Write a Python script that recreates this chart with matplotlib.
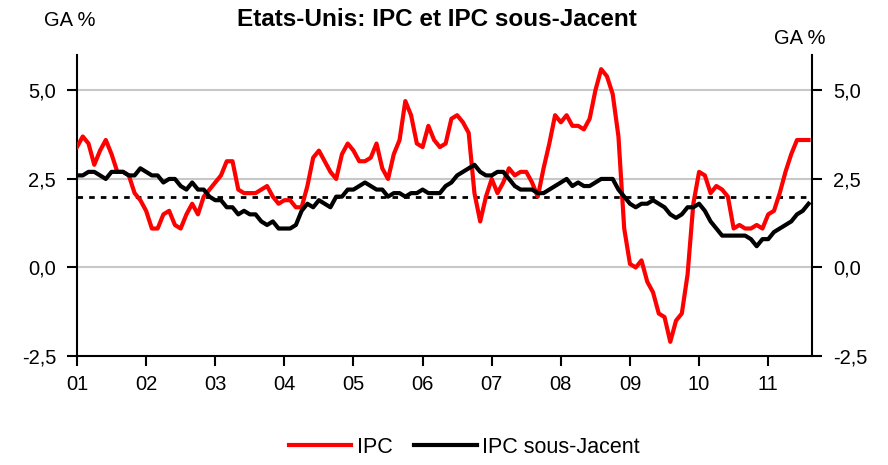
import matplotlib
matplotlib.use('Agg')
import matplotlib.pyplot as plt
from matplotlib.ticker import FuncFormatter

plt.rcParams['font.family'] = ['Liberation Sans', 'DejaVu Sans']

# monthly YoY %, Dec 2000 -> Jul 2011
ipc = [3.4,
       3.7, 3.5, 2.9, 3.3, 3.6, 3.2, 2.7, 2.7, 2.6, 2.1, 1.9, 1.6,
       1.1, 1.1, 1.5, 1.6, 1.2, 1.1, 1.5, 1.8, 1.5, 2.0, 2.2, 2.4,
       2.6, 3.0, 3.0, 2.2, 2.1, 2.1, 2.1, 2.2, 2.3, 2.0, 1.8, 1.9,
       1.9, 1.7, 1.7, 2.3, 3.1, 3.3, 3.0, 2.7, 2.5, 3.2, 3.5, 3.3,
       3.0, 3.0, 3.1, 3.5, 2.8, 2.5, 3.2, 3.6, 4.7, 4.3, 3.5, 3.4,
       4.0, 3.6, 3.4, 3.5, 4.2, 4.3, 4.1, 3.8, 2.1, 1.3, 2.0, 2.5,
       2.1, 2.4, 2.8, 2.6, 2.7, 2.7, 2.4, 2.0, 2.8, 3.5, 4.3, 4.1,
       4.3, 4.0, 4.0, 3.9, 4.2, 5.0, 5.6, 5.4, 4.9, 3.7, 1.1, 0.1,
       0.0, 0.2, -0.4, -0.7, -1.3, -1.4, -2.1, -1.5, -1.3, -0.2, 1.8, 2.7,
       2.6, 2.1, 2.3, 2.2, 2.0, 1.1, 1.2, 1.1, 1.1, 1.2, 1.1, 1.5,
       1.6, 2.1, 2.7, 3.2, 3.6, 3.6, 3.6]
ipc_sj = [2.6,
          2.6, 2.7, 2.7, 2.6, 2.5, 2.7, 2.7, 2.7, 2.6, 2.6, 2.8, 2.7,
          2.6, 2.6, 2.4, 2.5, 2.5, 2.3, 2.2, 2.4, 2.2, 2.2, 2.0, 1.9,
          1.9, 1.7, 1.7, 1.5, 1.6, 1.5, 1.5, 1.3, 1.2, 1.3, 1.1, 1.1,
          1.1, 1.2, 1.6, 1.8, 1.7, 1.9, 1.8, 1.7, 2.0, 2.0, 2.2, 2.2,
          2.3, 2.4, 2.3, 2.2, 2.2, 2.0, 2.1, 2.1, 2.0, 2.1, 2.1, 2.2,
          2.1, 2.1, 2.1, 2.3, 2.4, 2.6, 2.7, 2.8, 2.9, 2.7, 2.6, 2.6,
          2.7, 2.7, 2.5, 2.3, 2.2, 2.2, 2.2, 2.1, 2.1, 2.2, 2.3, 2.4,
          2.5, 2.3, 2.4, 2.3, 2.3, 2.4, 2.5, 2.5, 2.5, 2.2, 2.0, 1.8,
          1.7, 1.8, 1.8, 1.9, 1.8, 1.7, 1.5, 1.4, 1.5, 1.7, 1.7, 1.8,
          1.6, 1.3, 1.1, 0.9, 0.9, 0.9, 0.9, 0.9, 0.8, 0.6, 0.8, 0.8,
          1.0, 1.1, 1.2, 1.3, 1.5, 1.6, 1.8]
year_labels = ['01', '02', '03', '04', '05', '06', '07', '08', '09', '10', '11']
cible = 2.0

fig = plt.figure(figsize=(8.88, 4.65), dpi=100)
ax = fig.add_axes([0.0867, 0.2344, 0.8277, 0.6473])

x = list(range(len(ipc)))
ax.plot(x, ipc, color='#ff0000', lw=3, label='IPC', zorder=3)
ax.plot(x, ipc_sj, color='black', lw=3, label='IPC sous-Jacent', zorder=4)
ax.plot([0, len(ipc) - 1], [cible, cible], color='black', lw=2, ls=(0, (2, 2.2)), zorder=2)

ax.set_xlim(0, 127.6)
ax.set_ylim(-2.5, 6.0)
ax.set_yticks([-2.5, 0, 2.5, 5.0])
for v in [0, 2.5, 5.0]:
    ax.axhline(v, color='#c8c8c8', lw=1.5, zorder=1)

fmt = FuncFormatter(lambda v, p: f'{v:.1f}'.replace('.', ','))
ax.yaxis.set_major_formatter(fmt)
ax.set_xticks([12 * i for i in range(len(year_labels))])
ax.set_xticklabels(year_labels)

ax.spines['top'].set_visible(False)
for s in ['left', 'right', 'bottom']:
    ax.spines[s].set_linewidth(1.5)
ax.tick_params(axis='y', which='both', left=True, right=True, labelleft=True, labelright=True,
               direction='out', length=7, width=1.5, labelsize=14.5, pad=8)
ax.tick_params(axis='x', direction='out', length=7, width=1.5, labelsize=14.5, pad=7)

fig.text(0.492, 0.958, 'Etats-Unis: IPC et IPC sous-Jacent', ha='center', va='center',
         fontsize=17.5, fontweight='bold')
fig.text(0.079, 0.955, 'GA %', ha='center', va='center', fontsize=14.5)
fig.text(0.901, 0.918, 'GA %', ha='center', va='center', fontsize=14.5)

fig.legend(loc='center', bbox_to_anchor=(0.523, 0.038), ncol=2, frameon=False,
           fontsize=15.5, handlelength=2.9, handletextpad=0.27, columnspacing=1.0)

fig.savefig('out.png', dpi=100)
